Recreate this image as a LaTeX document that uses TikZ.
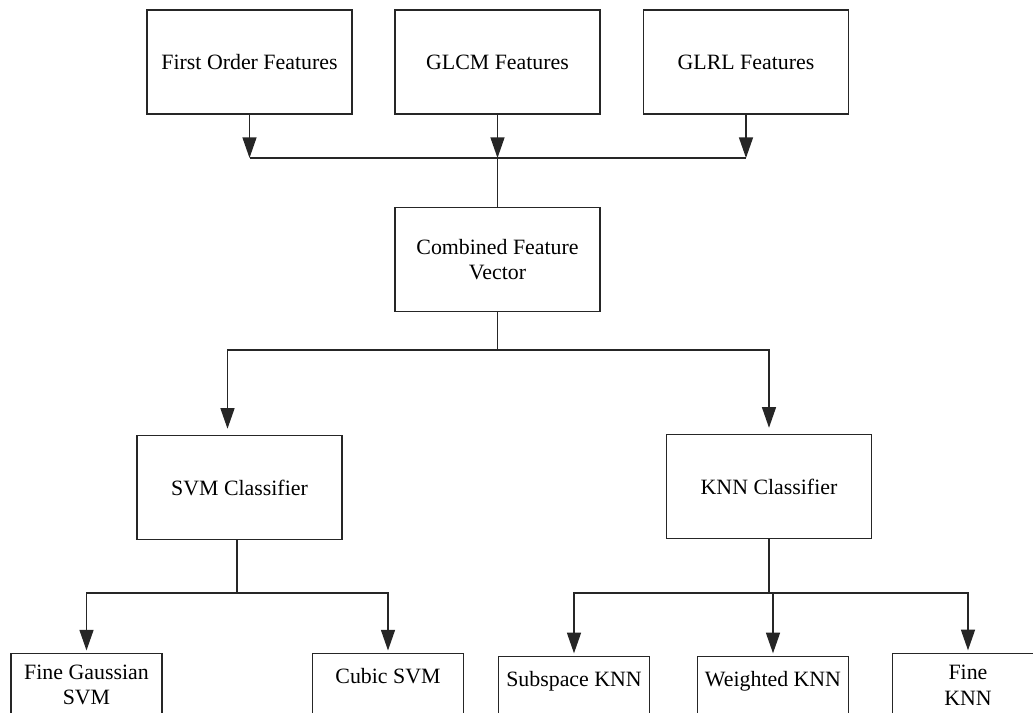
\documentclass[tikz,border=0pt]{standalone}
\usepackage{fontspec}
\setmainfont{Liberation Serif}
\usetikzlibrary{arrows.meta}

\begin{document}
\begin{tikzpicture}[x=0.75pt, y=-0.75pt, line width=1.1pt,
    every node/.style={font=\fontsize{16.4}{19}\selectfont},
    box/.style={draw=chartline, minimum width=153.75pt, minimum height=78pt, align=center, inner sep=0pt},
    leaf/.style={draw=chartline, anchor=north, minimum width=113.25pt, align=center,
        inner xsep=0pt, inner ysep=10.5pt, text height=12pt, text depth=60pt},
    twoline/.style={text height=28pt},
    flow/.style={draw=chartline, -{Triangle[length=15.5pt, width=10.5pt]}},
    gap/.style={shorten >=#1}]
    \definecolor{chartline}{RGB}{38,38,38}

    \useasboundingbox (0,0) rectangle (1033,713);
    \clip (0,0) rectangle (1033,713);

    % Feature extraction
    \node[box] (first) at (249.5,62) {First Order Features};
    \node[box] (glcm) at (497.5,62) {GLCM Features};
    \node[box] (glrl) at (746,62) {GLRL Features};
    \node[box] (combined) at (497.5,259.5) {Combined Feature\\Vector};

    % Classifiers
    \node[box] (svm) at (239.5,487.5) {SVM Classifier};
    \node[box] (knn) at (769,486.5) {KNN Classifier};

    % Models (cut by the page bottom)
    \node[leaf, twoline] (fgsvm) at (86.5,652.5) {Fine Gaussian\\SVM};
    \node[leaf] (cubic) at (388,652.5) {Cubic SVM};
    \node[leaf] (subknn) at (574,656) {Subspace KNN};
    \node[leaf] (wknn) at (773,656) {Weighted KNN};
    \node[leaf, twoline] (fknn) at (968,653) {Fine\\KNN};

    \coordinate (featbus) at (0,158);
    \coordinate (clsbus) at (0,350);
    \coordinate (svmbus) at (0,593);
    \coordinate (knnbus) at (0,593);

    \draw[flow] (first.south) -- (first.south |- featbus);
    \draw[flow] (glcm.south) -- (glcm.south |- featbus);
    \draw[flow] (glrl.south) -- (glrl.south |- featbus);
    \draw[chartline] (first.south |- featbus) -- (glrl.south |- featbus);
    \draw[chartline] (glcm.south |- featbus) -- (combined.north);

    \draw[chartline] (combined.south) -- (combined.south |- clsbus);
    \draw[flow, gap=4.5pt] (combined.south |- clsbus) -| ([xshift=-9pt]svm.north);
    \draw[flow, gap=4.5pt] (combined.south |- clsbus) -| (knn.north);

    \draw[chartline] ([xshift=-2pt]svm.south) -- ([xshift=-2pt]svm.south |- svmbus);
    \draw[flow, gap=1.5pt] ([xshift=-2pt]svm.south |- svmbus) -| (fgsvm.north);
    \draw[flow, gap=1.5pt] ([xshift=-2pt]svm.south |- svmbus) -| (cubic.north);

    \draw[chartline] (knn.south) -- (knn.south |- knnbus);
    \draw[flow, gap=2pt] (knn.south |- knnbus) -| (subknn.north);
    \draw[flow, gap=2pt] (knn.south |- knnbus) -| (wknn.north);
    \draw[flow, gap=2pt] (knn.south |- knnbus) -| (fknn.north);
\end{tikzpicture}
\end{document}
